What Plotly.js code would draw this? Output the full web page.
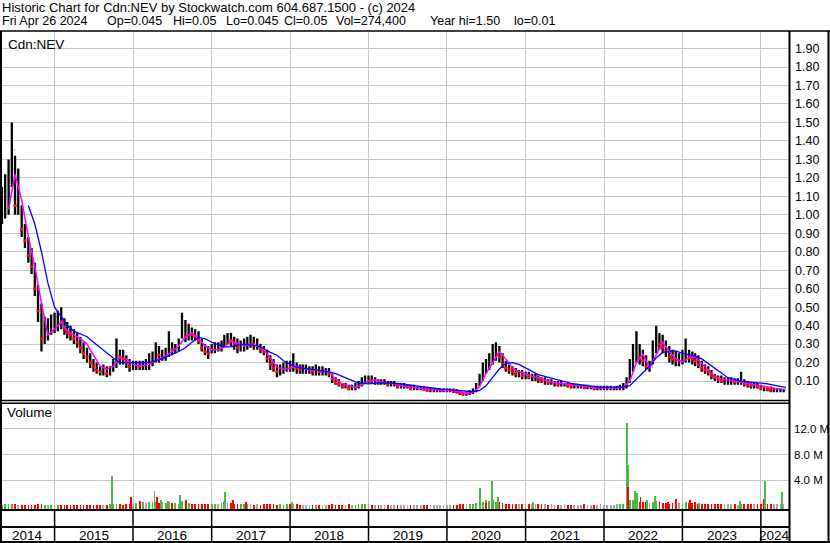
<!DOCTYPE html>
<html>
<head>
<meta charset="utf-8">
<script src="https://cdn.plot.ly/plotly-3.0.1.min.js"></script>
<style>html,body{margin:0;padding:0;background:#fff;}#chart{width:830px;height:543px;}</style>
</head>
<body>
<div id="chart"></div>
<script>
// ---------- DATA ----------
// semi-monthly price samples: 2014-04-24, then 1st & 16th of each month May 2014 .. Apr 2024
const priceHigh = [
 1.18,1.15,1.22,1.30,1.50,1.32,1.25,1.05,0.95,0.88,0.82,0.74,0.62,0.52,0.45,0.44,0.46,
 0.47,0.48,0.50,0.44,0.42,0.40,0.38,0.36,0.34,0.31,0.28,0.25,0.22,0.20,0.18,0.19,0.18,0.18,0.22,0.33,0.27,0.27,0.24,0.22,
 0.21,0.21,0.21,0.21,0.22,0.25,0.26,0.31,0.29,0.27,0.28,0.37,0.31,0.30,0.33,0.47,0.43,0.41,0.39,0.38,0.37,0.33,0.30,0.29,
 0.30,0.31,0.31,0.32,0.35,0.36,0.36,0.34,0.33,0.32,0.33,0.34,0.35,0.34,0.33,0.30,0.29,0.27,0.24,0.22,0.19,0.19,0.20,0.21,
 0.21,0.25,0.20,0.19,0.19,0.19,0.18,0.18,0.19,0.18,0.18,0.17,0.17,0.14,0.12,0.11,0.09,0.09,0.08,0.08,0.09,0.10,0.12,0.13,
 0.13,0.13,0.12,0.11,0.11,0.11,0.10,0.10,0.10,0.09,0.09,0.09,0.08,0.08,0.08,0.07,0.07,0.07,0.065,0.065,0.06,0.06,0.06,0.06,
 0.06,0.06,0.06,0.055,0.05,0.04,0.04,0.05,0.06,0.09,0.14,0.20,0.22,0.25,0.30,0.31,0.29,0.25,0.21,0.19,0.18,0.17,0.16,0.16,
 0.15,0.15,0.14,0.14,0.13,0.12,0.12,0.11,0.11,0.10,0.10,0.10,0.09,0.09,0.09,0.085,0.085,0.08,0.08,0.08,0.075,0.075,0.075,0.075,
 0.075,0.075,0.075,0.07,0.075,0.08,0.09,0.12,0.22,0.30,0.37,0.30,0.27,0.24,0.21,0.32,0.40,0.36,0.35,0.32,0.29,0.27,0.26,0.25,
 0.27,0.33,0.27,0.26,0.25,0.24,0.21,0.19,0.18,0.16,0.14,0.13,0.13,0.12,0.12,0.12,0.115,0.115,0.15,0.11,0.10,0.095,0.09,0.09,
 0.08,0.075,0.07,0.07,0.065,0.06,0.06,0.055
];
const priceLow = [
 0.92,0.95,0.98,1.00,1.15,1.00,1.00,0.88,0.82,0.74,0.68,0.56,0.42,0.26,0.30,0.32,0.35,
 0.36,0.37,0.38,0.35,0.33,0.32,0.30,0.28,0.25,0.22,0.20,0.17,0.15,0.14,0.13,0.13,0.12,0.13,0.15,0.17,0.19,0.19,0.17,0.15,
 0.16,0.16,0.16,0.16,0.16,0.16,0.18,0.20,0.20,0.21,0.21,0.23,0.24,0.25,0.26,0.33,0.31,0.32,0.32,0.32,0.30,0.26,0.24,0.22,
 0.25,0.25,0.26,0.26,0.29,0.30,0.29,0.27,0.25,0.26,0.26,0.27,0.28,0.27,0.27,0.25,0.24,0.20,0.16,0.15,0.12,0.13,0.14,0.15,
 0.15,0.15,0.14,0.14,0.14,0.14,0.14,0.13,0.13,0.13,0.13,0.13,0.12,0.09,0.08,0.07,0.06,0.06,0.05,0.05,0.05,0.06,0.07,0.09,
 0.09,0.09,0.08,0.08,0.08,0.08,0.07,0.07,0.07,0.06,0.06,0.06,0.06,0.05,0.05,0.05,0.05,0.05,0.045,0.04,0.04,0.04,0.04,0.04,
 0.04,0.04,0.035,0.035,0.025,0.02,0.02,0.025,0.03,0.04,0.07,0.10,0.14,0.16,0.19,0.21,0.20,0.17,0.15,0.14,0.13,0.12,0.12,0.11,
 0.11,0.11,0.10,0.10,0.09,0.09,0.08,0.08,0.08,0.07,0.07,0.07,0.07,0.065,0.06,0.06,0.06,0.06,0.055,0.055,0.055,0.05,0.05,0.05,
 0.05,0.05,0.05,0.05,0.05,0.05,0.05,0.06,0.09,0.15,0.20,0.19,0.18,0.16,0.15,0.19,0.25,0.27,0.25,0.23,0.20,0.19,0.18,0.18,
 0.19,0.20,0.20,0.19,0.18,0.17,0.15,0.14,0.13,0.11,0.10,0.09,0.09,0.08,0.08,0.08,0.08,0.08,0.08,0.07,0.065,0.06,0.06,0.06,
 0.05,0.045,0.045,0.04,0.04,0.04,0.04,0.04
];
const priceClose = [
 1.02,1.05,1.10,1.20,1.35,1.05,1.05,0.92,0.86,0.78,0.72,0.60,0.48,0.33,0.38,0.38,0.42,
 0.42,0.44,0.42,0.38,0.36,0.35,0.33,0.31,0.28,0.25,0.23,0.20,0.18,0.16,0.15,0.15,0.14,0.16,0.19,0.24,0.23,0.22,0.20,0.18,
 0.18,0.19,0.18,0.19,0.19,0.21,0.22,0.25,0.24,0.24,0.25,0.30,0.27,0.28,0.31,0.38,0.34,0.36,0.35,0.34,0.32,0.28,0.26,0.25,
 0.27,0.28,0.28,0.29,0.33,0.33,0.32,0.30,0.28,0.29,0.30,0.31,0.31,0.30,0.30,0.27,0.26,0.22,0.19,0.17,0.15,0.16,0.17,0.18,
 0.17,0.18,0.17,0.16,0.16,0.16,0.16,0.15,0.16,0.15,0.15,0.15,0.14,0.11,0.09,0.08,0.07,0.07,0.06,0.06,0.07,0.08,0.10,0.11,
 0.11,0.10,0.10,0.09,0.09,0.09,0.08,0.08,0.08,0.07,0.07,0.07,0.07,0.06,0.06,0.06,0.06,0.055,0.05,0.05,0.05,0.05,0.05,0.05,
 0.05,0.05,0.045,0.04,0.035,0.03,0.03,0.04,0.05,0.07,0.11,0.16,0.18,0.21,0.25,0.26,0.23,0.19,0.17,0.16,0.15,0.14,0.14,0.13,
 0.13,0.12,0.12,0.12,0.11,0.10,0.10,0.09,0.09,0.09,0.08,0.08,0.08,0.075,0.07,0.07,0.07,0.07,0.065,0.065,0.065,0.06,0.06,0.06,
 0.06,0.06,0.06,0.06,0.06,0.065,0.07,0.10,0.16,0.22,0.26,0.23,0.21,0.18,0.18,0.27,0.32,0.30,0.28,0.26,0.23,0.22,0.21,0.21,
 0.22,0.24,0.23,0.22,0.21,0.19,0.17,0.16,0.15,0.13,0.12,0.11,0.10,0.10,0.10,0.10,0.095,0.095,0.10,0.085,0.08,0.075,0.075,0.07,
 0.06,0.06,0.055,0.05,0.05,0.05,0.05,0.05
];
// typical daily volume (millions) in each half-month
const volumeBase = [
 0.3,0.25,0.3,0.3,0.35,0.3,0.25,0.2,0.25,0.2,0.2,0.25,0.3,0.3,0.25,0.2,0.2,
 0.2,0.2,0.15,0.2,0.15,0.15,0.2,0.15,0.15,0.2,0.15,0.15,0.2,0.15,0.2,0.15,0.2,0.3,0.3,0.4,0.3,0.25,0.3,0.4,
 0.35,0.5,0.8,0.6,0.5,0.6,0.6,0.7,0.5,0.6,0.5,0.7,0.5,0.5,0.4,0.8,0.6,0.5,0.4,0.4,0.3,0.35,0.3,0.3,
 0.3,0.4,0.35,0.5,0.6,0.45,0.5,0.4,0.4,0.35,0.4,0.3,0.3,0.25,0.3,0.25,0.3,0.3,0.35,0.3,0.25,0.3,0.25,0.3,
 0.3,0.35,0.3,0.25,0.25,0.2,0.25,0.2,0.2,0.2,0.2,0.2,0.25,0.3,0.2,0.2,0.2,0.25,0.3,0.2,0.2,0.3,0.35,0.3,
 0.3,0.25,0.2,0.2,0.2,0.2,0.2,0.2,0.25,0.2,0.2,0.2,0.2,0.2,0.15,0.2,0.2,0.2,0.2,0.2,0.2,0.25,0.2,0.2,
 0.2,0.2,0.25,0.2,0.3,0.35,0.3,0.3,0.4,0.5,0.8,0.7,0.9,0.8,0.9,0.7,0.6,0.5,0.4,0.4,0.35,0.3,0.3,0.3,
 0.3,0.35,0.3,0.3,0.4,0.3,0.3,0.25,0.3,0.25,0.25,0.2,0.3,0.2,0.2,0.25,0.2,0.2,0.3,0.2,0.2,0.25,0.2,0.3,
 0.25,0.2,0.2,0.2,0.3,0.3,0.4,0.9,1.0,0.9,0.8,0.7,0.6,0.6,0.5,0.7,0.8,0.6,0.5,0.5,0.4,0.5,0.5,0.45,
 0.4,0.6,0.5,0.5,0.6,0.4,0.4,0.35,0.4,0.35,0.3,0.3,0.3,0.3,0.35,0.3,0.3,0.25,0.4,0.3,0.3,0.3,0.3,0.35,
 0.4,0.5,0.4,0.35,0.4,0.3,0.35,0.3
];
// individual heavy-volume days
const spikeDates = ['2015-09-25','2015-12-23','2016-04-10','2016-04-20','2016-05-10','2016-06-14','2016-08-07','2016-09-05',
 '2017-03-04','2017-04-10','2017-06-10','2018-01-10','2020-06-03','2020-07-01','2020-07-30','2020-08-26','2021-02-05',
 '2022-04-17','2022-04-22','2022-04-22','2022-05-26','2022-06-05','2022-06-20','2022-07-19','2022-08-27','2022-10-25',
 '2022-12-01','2023-02-05','2023-03-18','2023-09-25','2024-01-14','2024-01-19','2024-04-10'];
const spikeVolumes = [4.67,1.5,2.36,1.5,1.0,0.85,1.75,1.0,
 2.2,1.0,0.6,0.67,2.9,0.5,3.85,1.5,0.7,
 12.9,6.4,3.0,2.3,2.0,1.4,1.0,1.6,0.7,
 1.2,1.0,0.5,0.8,1.2,3.95,2.2];
const spikeUp = [1,0,1,0,1,1,1,0, 1,0,0,1,1,0,1,1,1, 1,1,0,1,1,0,1,1,0, 0,0,1,1,0,1,1];
// moving averages, monthly samples (magenta from Jun 2014, blue from Sep 2014), last sample 2024-04-26
const maShort = [
 1.03,1.22,1.08,0.88,0.72,0.52,0.35,
 0.38,0.42,0.37,0.35,0.33,0.30,0.24,0.18,0.165,0.18,0.23,0.22,
 0.19,0.18,0.185,0.20,0.22,0.235,0.26,0.29,0.34,0.36,0.33,0.29,
 0.27,0.27,0.285,0.315,0.305,0.29,0.295,0.29,0.27,0.22,0.175,0.165,
 0.17,0.18,0.17,0.16,0.16,0.155,0.15,0.11,0.085,0.075,0.065,0.08,
 0.10,0.105,0.095,0.09,0.085,0.075,0.07,0.065,0.06,0.057,0.052,0.05,
 0.05,0.048,0.042,0.032,0.038,0.07,0.14,0.20,0.26,0.22,0.17,0.15,
 0.14,0.125,0.12,0.105,0.095,0.09,0.085,0.078,0.073,0.07,0.066,0.063,
 0.062,0.062,0.062,0.065,0.10,0.20,0.245,0.17,0.24,0.31,0.26,0.22,
 0.205,0.225,0.23,0.195,0.16,0.125,0.11,0.105,0.10,0.095,0.09,0.08,
 0.073,0.066,0.06,0.057,0.056
];
const maLong = [
 1.05,0.95,0.80,0.63,
 0.50,0.45,0.40,0.37,0.355,0.34,0.31,0.28,0.25,0.225,0.20,0.20,
 0.20,0.20,0.20,0.205,0.215,0.23,0.245,0.26,0.28,0.31,0.335,0.33,
 0.31,0.295,0.285,0.285,0.295,0.30,0.295,0.29,0.275,0.255,0.24,0.21,
 0.19,0.175,0.17,0.165,0.16,0.158,0.15,0.14,0.125,0.11,0.095,0.088,
 0.085,0.088,0.09,0.09,0.088,0.085,0.08,0.075,0.07,0.065,0.06,0.057,
 0.055,0.052,0.048,0.043,0.042,0.05,0.075,0.12,0.165,0.195,0.20,0.19,
 0.17,0.15,0.135,0.125,0.115,0.105,0.095,0.088,0.082,0.077,0.072,0.069,
 0.067,0.066,0.066,0.067,0.075,0.11,0.14,0.18,0.225,0.255,0.26,0.263,
 0.25,0.24,0.235,0.22,0.195,0.165,0.14,0.118,0.108,0.10,0.096,0.093,
 0.09,0.085,0.078,0.07,0.066
];
const priceTickVals = [0.1,0.2,0.3,0.4,0.5,0.6,0.7,0.8,0.9,1.0,1.1,1.2,1.3,1.4,1.5,1.6,1.7,1.8,1.9];
const priceTickText = ['0.10','0.20','0.30','0.40','0.50','0.60','0.70','0.80','0.90','1.00','1.10','1.20','1.30','1.40','1.50','1.60','1.70','1.80','1.90'];
const volTickVals = [4,8,12];
const volTickText = ['4.0 M','8.0 M','12.0 M'];
const yearLabels = ['2014','2015','2016','2017','2018','2019','2020','2021','2022','2023','2024'];
const titleLine1 = 'Historic Chart for Cdn:NEV by Stockwatch.com 604.687.1500 - (c) 2024';
const titleLine2Fields = ['Fri Apr 26 2024','Op=0.045','Hi=0.05','Lo=0.045','Cl=0.05','Vol=274,400','Year hi=1.50','lo=0.01'];
const titleLine2X = [1,106,172,225,283,335,429,513];

// ---------- dates ----------
function pad(n){return String(n).padStart(2,'0');}
const dates = ['2014-04-24'];
for (let y=2014;y<=2024;y++){ for(let m=1;m<=12;m++){
  if (y===2014 && m<5) continue; if (y===2024 && m>4) break;
  dates.push(`${y}-${pad(m)}-01`, `${y}-${pad(m)}-16`);
}}
function monthly(y0,m0,n,last){
  const out=[]; let y=y0,m=m0;
  for(let i=0;i<n-1;i++){ out.push(`${y}-${pad(m)}-01`); m++; if(m>12){m=1;y++;} }
  out.push(last); return out;
}
const maShortDates = monthly(2014,6,maShort.length,'2024-04-26');
const maLongDates = monthly(2014,9,maLong.length,'2024-04-26');

const xStart='2014-04-22', xEnd='2024-05-11';
const yearStarts = []; for(let y=2015;y<=2024;y++) yearStarts.push(`${y}-01-01`);

// ---------- traces ----------
const opens = priceClose.map((c,i)=> i===0 ? c : priceClose[i-1]);
const downX=[], downY=[];
priceClose.forEach((c,i)=>{ if(i>0 && c<priceClose[i-1]){downX.push(dates[i]); downY.push(c);} });
const GREEN='#4cb84c', RED='#ff0000', GRAY='#a8a8a8';
const baseColors = priceClose.map((c,i)=> i===0 ? GREEN : (c>priceClose[i-1]?GREEN:(c<priceClose[i-1]?RED:GRAY)));
const VBASE = -0.415;
const DAY = 86400000;

const traces = [
 {type:'ohlc', x:dates, open:opens, high:priceHigh, low:priceLow, close:priceClose,
  increasing:{line:{color:'#000000',width:2.3}}, decreasing:{line:{color:'#000000',width:2.3}},
  tickwidth:0.2, xaxis:'x', yaxis:'y', hoverinfo:'skip'},
 {type:'scatter', mode:'markers', x:downX, y:downY, marker:{color:RED,size:3,symbol:'square'},
  xaxis:'x', yaxis:'y', hoverinfo:'skip'},
 {type:'scatter', mode:'lines', x:maShortDates, y:maShort, line:{color:'#ff00ff',width:1.5},
  xaxis:'x', yaxis:'y', hoverinfo:'skip'},
 {type:'scatter', mode:'lines', x:maLongDates, y:maLong, line:{color:'#0000ff',width:1.3},
  xaxis:'x', yaxis:'y', hoverinfo:'skip'},
 {type:'bar', x:dates, y:volumeBase.map(v=>v-VBASE), base:VBASE, width:8*DAY,
  marker:{color:baseColors,line:{width:0}}, xaxis:'x2', yaxis:'y2', hoverinfo:'skip'},
 {type:'bar', x:spikeDates, y:spikeVolumes.map(v=>v-VBASE), base:VBASE, width:9*DAY,
  marker:{color:spikeUp.map(u=>u?GREEN:RED),line:{width:0}}, xaxis:'x2', yaxis:'y2', hoverinfo:'skip'}
];

// ---------- layout ----------
const W=830,H=543;
const px=x=>x/W, py=y=>1-y/H;
const FONT='"Liberation Sans", Arial, sans-serif';
const gridCol='#c8c8c8';
const xCommon = {type:'date', range:[xStart,xEnd], tickvals:yearStarts, showticklabels:false, ticks:'',
  showgrid:true, gridcolor:gridCol, gridwidth:1, zeroline:false, showline:false, fixedrange:true};

const shapes = [];
function hline(y,x0,x1,w){shapes.push({type:'line',xref:'paper',yref:'paper',x0:px(x0),x1:px(x1),y0:py(y),y1:py(y),line:{color:'#000',width:w}});}
function vline(x,y0,y1,w){shapes.push({type:'line',xref:'paper',yref:'paper',x0:px(x),x1:px(x),y0:py(y0),y1:py(y1),line:{color:'#000',width:w}});}
hline(31,0,830,1.5);
vline(1,31,543,2);
vline(789.5,31,543,2);
vline(828.5,31,543,2);
hline(400.5,0,789,1.5);
hline(403.2,0,789,1.5);
hline(510,0,789,2);
hline(527,0,789,2);
hline(542,0,830,2);
yearStarts.forEach(d=>{
  shapes.push({type:'line',xref:'x',yref:'paper',x0:d,x1:d,y0:py(542),y1:py(510),line:{color:'#000',width:1.5}});
});

const annotations = [];
function txt(text,x,y,size,anchor){annotations.push({text:text,xref:'paper',yref:'paper',x:px(x),y:py(y),xanchor:anchor||'left',yanchor:'middle',showarrow:false,font:{family:FONT,size:size,color:'#000'},borderpad:0});}
txt(titleLine1,1,8,13);
titleLine2Fields.forEach((f,i)=>txt(f,titleLine2X[i],21,12.5));
txt('Cdn:NEV',7,44,13.5);
txt('Volume',6,413,13.5);
const t0=new Date(xStart+'T00:00:00Z').getTime(), t1=new Date(xEnd+'T00:00:00Z').getTime();
yearLabels.forEach((lab,i)=>{
  const y=+lab;
  const a=Math.max(new Date(`${y}-01-01T00:00:00Z`).getTime(),t0);
  const b=Math.min(new Date(`${y+1}-01-01T00:00:00Z`).getTime(),t1);
  const mid=new Date((a+b)/2).toISOString().slice(0,10);
  annotations.push({text:lab,xref:'x',yref:'paper',x:mid,y:py(535),xanchor:'center',yanchor:'middle',showarrow:false,font:{family:FONT,size:13.5,color:'#000'},borderpad:0});
});

const layout = {
  width:W, height:H, margin:{l:0,r:0,t:0,b:0,pad:0}, paper_bgcolor:'#ffffff', plot_bgcolor:'#ffffff',
  showlegend:false, barmode:'overlay', bargap:0, font:{family:FONT,size:12,color:'#000'},
  xaxis:Object.assign({},xCommon,{domain:[0,789/830],anchor:'y',rangeslider:{visible:false}}),
  xaxis2:Object.assign({},xCommon,{domain:[0,789/830],anchor:'y2',matches:'x'}),
  yaxis:{domain:[py(401),py(31)], range:[-0.008,1.995], side:'right', anchor:'x', tickvals:priceTickVals, ticktext:priceTickText,
    showgrid:true, gridcolor:gridCol, gridwidth:1, zeroline:false, showline:false, ticks:'', ticklabelstandoff:5,
    tickfont:{family:FONT,size:12.5,color:'#000'}, fixedrange:true},
  yaxis2:{domain:[py(509),py(403.5)], range:[-0.415,15.89], side:'right', anchor:'x2', tickvals:volTickVals, ticktext:volTickText,
    showgrid:true, gridcolor:gridCol, gridwidth:1, zeroline:false, showline:false, ticks:'', ticklabelstandoff:4,
    tickfont:{family:FONT,size:11.5,color:'#000'}, fixedrange:true},
  shapes:shapes, annotations:annotations
};

Plotly.newPlot('chart', traces, layout, {staticPlot:true, displayModeBar:false});
</script>
</body>
</html>
